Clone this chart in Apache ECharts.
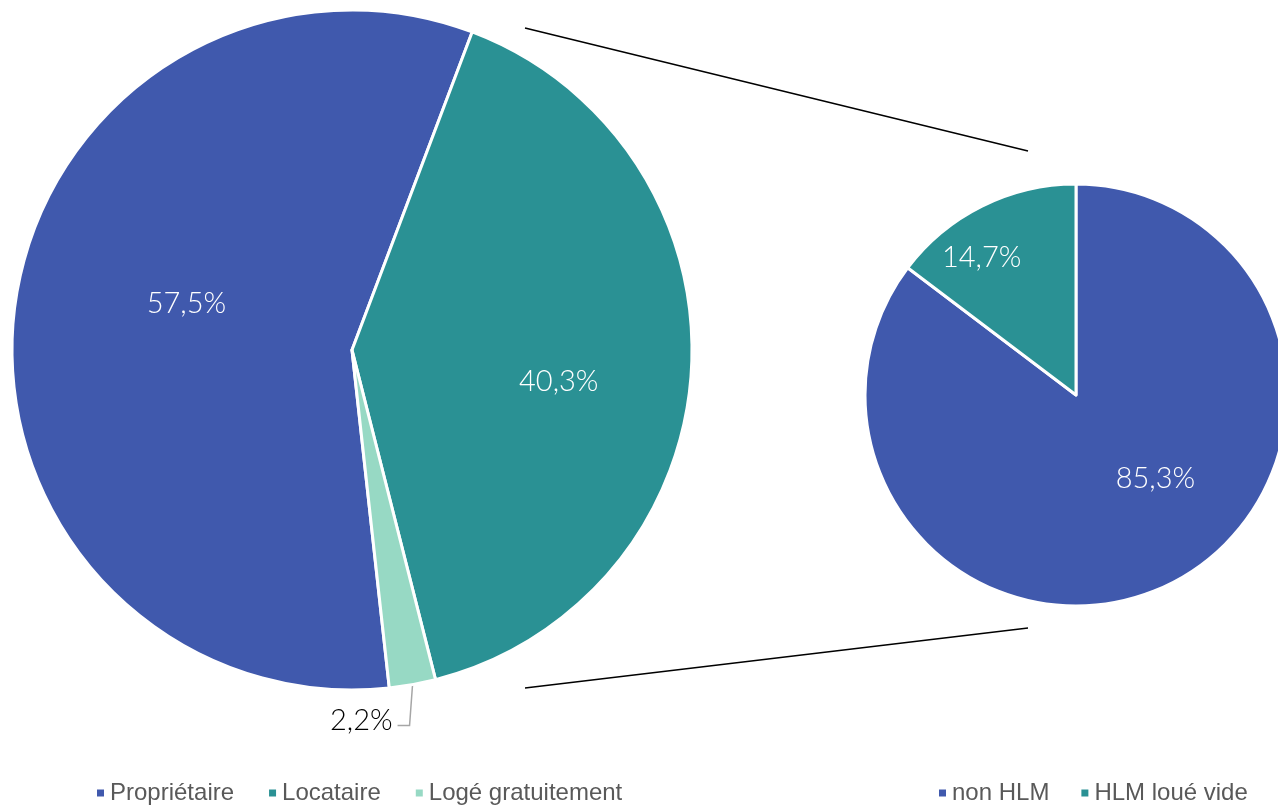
<!DOCTYPE html>
<html>
<head>
<meta charset="utf-8">
<script src="https://cdn.jsdelivr.net/npm/echarts@6/dist/echarts.min.js"></script>
<style>
  html, body { margin: 0; padding: 0; background: #ffffff; }
  #chart { width: 1278px; height: 806px; }
</style>
</head>
<body>
<div id="chart"></div>
<script>
// Statut d'occupation (camembert principal) et détail des locataires (second camembert)
const statutNames = ['Propriétaire', 'Locataire', 'Logé gratuitement'];
const statutValues = [57.5, 40.3, 2.2];
const locataireNames = ['non HLM', 'HLM loué vide'];
const locataireValues = [85.3, 14.7];

const colors = {
  'Propriétaire': '#4059AD',
  'Locataire': '#2A9194',
  'Logé gratuitement': '#97D9C4',
  'non HLM': '#4059AD',
  'HLM loué vide': '#2A9194'
};

const fmt = v => v.toFixed(1).replace('.', ',') + '%';

// label nudges (px) away from the default mid-radius placement
const labelShift = {
  '0-0': [6, -25],
  '0-1': [34, 22],
  '1-0': [31, -13],
  '1-1': [-46, -40]
};

const labelFont = { fontFamily: 'Lato', fontWeight: 300, fontSize: 29 };

function layoutLabels(p) {
  if (p.seriesIndex === 0 && p.dataIndex === 2) {
    // elbow leader: straight down from the slice edge, then back to the left
    const s = p.labelLinePoints[0];
    const bend = [s[0] - 3, s[1] + 41];
    const end = [s[0] - 15, s[1] + 41];
    return {
      x: end[0] - 5, y: end[1] - 5,
      align: 'right', verticalAlign: 'middle',
      labelLinePoints: [s, bend, end]
    };
  }
  const sh = labelShift[p.seriesIndex + '-' + p.dataIndex];
  if (sh) return { dx: sh[0], dy: sh[1] };
}

const legendText = { fontFamily: 'Liberation Sans', fontSize: 24, color: '#595959' };

const chart = echarts.init(document.getElementById('chart'), null, { renderer: 'canvas' });

chart.setOption({
  animation: false,
  backgroundColor: '#ffffff',
  legend: [
    {
      data: statutNames,
      left: 90, top: 776,
      itemWidth: 9, itemHeight: 9, itemGap: 33,
      icon: 'rect',
      textStyle: legendText
    },
    {
      data: locataireNames,
      left: 932, top: 776,
      itemWidth: 9, itemHeight: 9, itemGap: 30,
      icon: 'rect',
      textStyle: legendText
    }
  ],
  graphic: [
    { type: 'line', shape: { x1: 525, y1: 28, x2: 1028, y2: 151 }, style: { stroke: '#000', lineWidth: 1.5 } },
    { type: 'line', shape: { x1: 525, y1: 688, x2: 1028, y2: 628 }, style: { stroke: '#000', lineWidth: 1.5 } }
  ],
  series: [
    {
      type: 'pie',
      center: [352, 350],
      radius: [0, 340],
      startAngle: -83.7,
      clockwise: true,
      avoidLabelOverlap: false,
      itemStyle: { borderColor: '#ffffff', borderWidth: 3 },
      label: Object.assign({ show: true, position: 'inside', color: '#ffffff', formatter: p => fmt(p.value) }, labelFont),
      labelLayout: layoutLabels,
      data: statutNames.map((n, i) => {
        const d = { name: n, value: statutValues[i], itemStyle: { color: colors[n] } };
        if (i === 2) {
          d.label = Object.assign({ position: 'outside', color: '#000000' }, labelFont);
          d.labelLine = { show: true, length: 30, length2: 10, lineStyle: { color: '#A6A6A6', width: 1.5 } };
        }
        return d;
      })
    },
    {
      type: 'pie',
      center: [1076, 395],
      radius: [0, 211],
      startAngle: 90,
      clockwise: true,
      avoidLabelOverlap: false,
      itemStyle: { borderColor: '#ffffff', borderWidth: 3 },
      label: Object.assign({ show: true, position: 'inside', color: '#ffffff', formatter: p => fmt(p.value) }, labelFont),
      labelLayout: layoutLabels,
      data: locataireNames.map((n, i) => ({ name: n, value: locataireValues[i], itemStyle: { color: colors[n] } }))
    }
  ]
});
</script>
</body>
</html>
